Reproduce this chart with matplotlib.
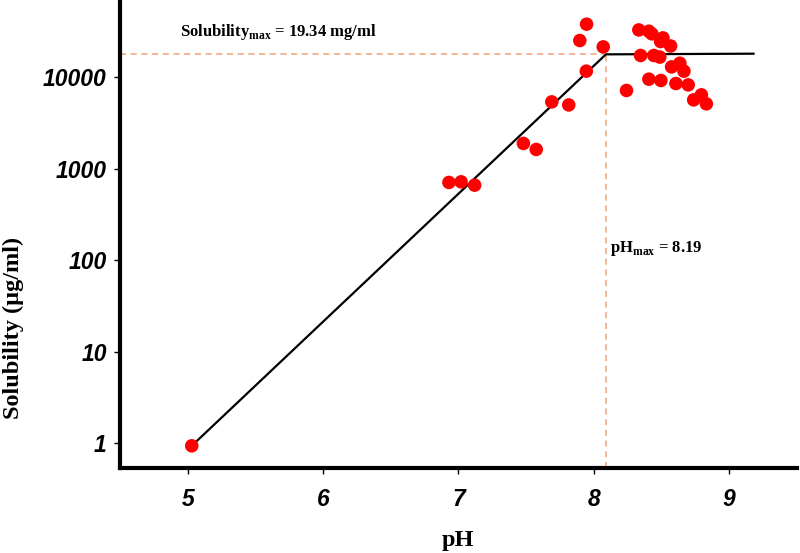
import numpy as np
import matplotlib
matplotlib.use('Agg')
import matplotlib.pyplot as plt

# measured solubility points (pH, ug/ml)
ph = [5.03, 6.93, 7.02, 7.12, 7.48, 7.575, 7.69, 7.815, 7.945, 7.897, 7.947, 8.07,
      8.242, 8.333, 8.407, 8.429, 8.511, 8.494, 8.568, 8.346, 8.444, 8.488, 8.575,
      8.636, 8.666, 8.407, 8.496, 8.607, 8.698, 8.738, 8.795, 8.832]
sol = [0.94, 712, 723, 665, 1900, 1633, 5410, 5010, 11720, 25350, 38260, 21600,
       7210, 33100, 32050, 30000, 27100, 24700, 22100, 17400, 17400, 16700, 13060,
       14330, 11720, 9580, 9270, 8590, 8300, 5690, 6460, 5150]

# fitted profile
fit_ph = [5.03, 8.09, 9.18]
fit_sol = [0.94, 17900, 18200]

ph_max_line = 8.09
sol_max_line = 18000

xticks = [5, 6, 7, 8, 9]
yticks = [1, 10, 100, 1000, 10000]
ytick_labels = ['1', '10', '100', '1000', '10000']

plt.rcParams['mathtext.fontset'] = 'custom'
plt.rcParams['mathtext.rm'] = 'Liberation Serif:bold'
plt.rcParams['mathtext.bf'] = 'Liberation Serif:bold'

fig = plt.figure(figsize=(8, 5.53), dpi=100)
ax = fig.add_axes([0.15, 0.154, 0.846, 0.842])

ax.set_yscale('log')
ax.set_xlim(4.5, 9.5)
ax.set_ylim(0.54, 66500)

dash_col = '#eea37a'
ax.plot([4.5, ph_max_line], [sol_max_line, sol_max_line], color=dash_col,
        lw=1.1, ls=(0, (4, 3)), zorder=1)
ax.plot([ph_max_line, ph_max_line], [0.54, sol_max_line], color=dash_col,
        lw=1.1, ls=(0, (4, 3)), zorder=1)

ax.plot(fit_ph, fit_sol, color='black', lw=1.6, zorder=2)
ax.scatter(ph, sol, s=95, color='#ff0000', edgecolors='none', zorder=3)

for s in ['top', 'right']:
    ax.spines[s].set_visible(False)
for s in ['left', 'bottom']:
    ax.spines[s].set_linewidth(3)

ax.set_xticks(xticks)
ax.set_xticklabels([str(t) for t in xticks])
ax.set_yticks(yticks)
ax.set_yticklabels(ytick_labels)
ax.yaxis.set_minor_locator(matplotlib.ticker.NullLocator())
ax.tick_params(axis='both', direction='out', length=4.5, width=1)
ax.tick_params(axis='y', pad=5)
ax.tick_params(axis='x', pad=10)

for lab in ax.get_yticklabels():
    lab.set_fontfamily('Liberation Sans')
    lab.set_fontweight('bold')
    lab.set_fontstyle('italic')
    lab.set_fontsize(16.5)
for lab in ax.get_xticklabels():
    lab.set_fontfamily('Liberation Sans')
    lab.set_fontweight('bold')
    lab.set_fontstyle('italic')
    lab.set_fontsize(16.5)

ax.set_xlabel('pH', fontfamily='Liberation Serif', fontweight='bold', fontsize=17.5,
              va='center')
ax.xaxis.set_label_coords(0.5, -0.155)
ax.set_ylabel('Solubility (µg/ml)', fontfamily='Liberation Serif', fontweight='bold',
              fontsize=17.5, va='center')
ax.yaxis.set_label_coords(-0.158, 0.30)

W, H = 800.0, 553.0
fig.text(180 / W, 1 - 31.7 / H, r'Solubility$_{\mathbf{max}}$ = 19.34 mg/ml',
         fontfamily='Liberation Serif', fontweight='bold', fontsize=12, va='center')
fig.text(610 / W, 1 - 249 / H, r'pH$_{\mathbf{max}}$ = 8.19',
         fontfamily='Liberation Serif', fontweight='bold', fontsize=12, va='center')

fig.savefig('out.png', dpi=100)
